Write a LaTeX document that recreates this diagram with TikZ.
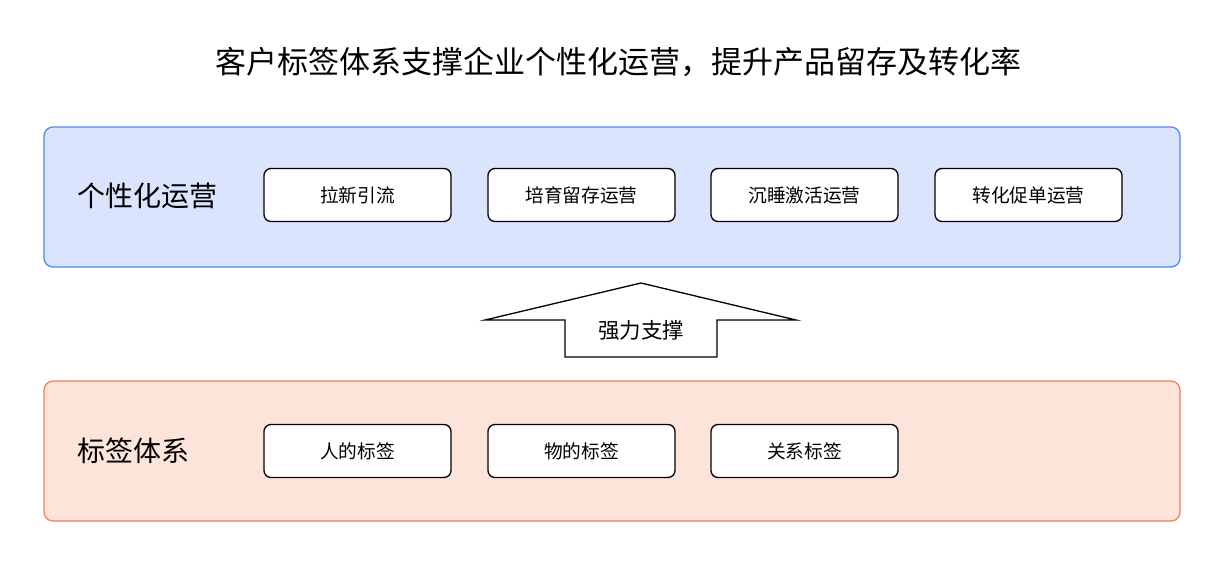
\documentclass[tikz,border=0pt]{standalone}
\usepackage{fontspec}
\setmainfont{Noto Sans CJK SC}
\definecolor{bluefill}{HTML}{DAE4FC}
\definecolor{blueline}{HTML}{5286F2}
\definecolor{orfill}{HTML}{FDE4DB}
\definecolor{orline}{HTML}{F77F52}
\tikzset{
  panel/.style={rounded corners=9pt, line width=1.3pt},
  item/.style={draw=black, fill=white, rounded corners=7pt, line width=1.3pt, minimum width=187pt, minimum height=53pt, inner sep=0pt, font=\fontsize{18.7pt}{20pt}\selectfont},
  sect/.style={anchor=west, inner sep=0pt, font=\fontsize{28pt}{30pt}\selectfont},
}
\begin{document}
\begin{tikzpicture}[x=1pt, y=-1pt]
\useasboundingbox (0,0) rectangle (1220,560);
\node[font=\fontsize{31pt}{34pt}\selectfont] (title) at (618,62) {客户标签体系支撑企业个性化运营，提升产品留存及转化率};
\draw[panel, draw=blueline, fill=bluefill] (44,127) rectangle (1180,267);
\node[sect] (s1) at (77,196) {个性化运营};
\node[item] (a1) at (357.5,195) {拉新引流};
\node[item] (a2) at (581.5,195) {培育留存运营};
\node[item] (a3) at (804.5,195) {沉睡激活运营};
\node[item] (a4) at (1028.5,195) {转化促单运营};
\draw[panel, draw=orline, fill=orfill] (44,381) rectangle (1180,521);
\node[sect] (s2) at (77,451) {标签体系};
\node[item] (b1) at (357.5,451) {人的标签};
\node[item] (b2) at (581.5,451) {物的标签};
\node[item] (b3) at (804.5,451) {关系标签};
\draw[line width=1.3pt, fill=white, line join=miter] (485,320) -- (641,283) -- (796,320) -- (717,320) -- (717,357) -- (565,357) -- (565,320) -- cycle;
\node[font=\fontsize{21.5pt}{23pt}\selectfont] (arr) at (641,330) {强力支撑};
\end{tikzpicture}
\end{document}
